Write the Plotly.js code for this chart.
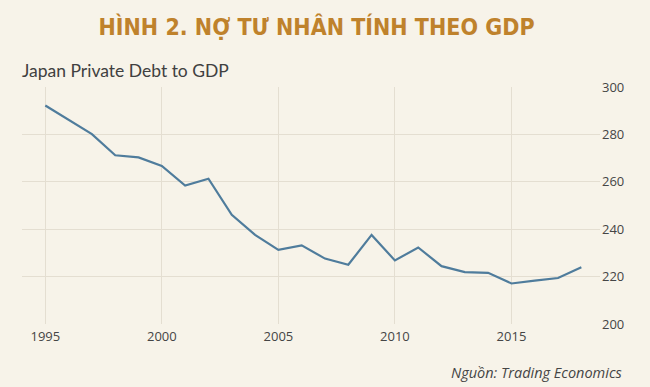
<!DOCTYPE html>
<html>
<head>
<meta charset="utf-8">
<script src="https://cdn.plot.ly/plotly-3.0.1.min.js"></script>
<style>
html,body{margin:0;padding:0;background:#f7f3e9;}
#chart{width:650px;height:387px;}
</style>
</head>
<body>
<div id="chart"></div>
<script>
var years = [1995,1996,1997,1998,1999,2000,2001,2002,2003,2004,2005,2006,2007,2008,2009,2010,2011,2012,2013,2014,2015,2016,2017,2018];
var debtToGdp = [292.2,286.2,280.1,271.2,270.3,266.7,258.4,261.3,246.1,237.6,231.3,233.2,227.6,225.0,237.6,226.8,232.3,224.4,221.9,221.6,217.1,218.3,219.4,223.9];
var xTicks = [1995,2000,2005,2010,2015];
var yTicks = [200,220,240,260,280,300];

var trace = {
  x: years, y: debtToGdp, type: 'scatter', mode: 'lines',
  line: {color: '#4f7c9c', width: 2.2},
  hoverinfo: 'x+y'
};

var layout = {
  width: 650, height: 387,
  paper_bgcolor: '#f7f3e9', plot_bgcolor: '#f7f3e9',
  margin: {l: 22, r: 50, t: 87, b: 63},
  showlegend: false,
  title: {
    text: '<b>HÌNH 2. NỢ TƯ NHÂN TÍNH THEO GDP</b>',
    font: {family: '"Liberation Sans Narrow", "DejaVu Sans Condensed", sans-serif', size: 23, color: '#bf822c'},
    x: 0.487, xanchor: 'center', xref: 'container',
    y: 0.93, yanchor: 'middle', yref: 'container'
  },
  xaxis: {
    range: [1994, 2018.8],
    tickvals: xTicks, ticktext: xTicks.map(String),
    showgrid: true, gridcolor: '#e4ded1', gridwidth: 1,
    zeroline: false, showline: false, ticks: '',
    ticklabelstandoff: 3,
    tickfont: {family: '"Open Sans", sans-serif', size: 13, color: '#454545'},
    fixedrange: true
  },
  yaxis: {
    range: [200, 300], side: 'right',
    tickvals: yTicks, ticktext: yTicks.map(String),
    showgrid: true, gridcolor: '#e4ded1', gridwidth: 1,
    zeroline: false, showline: false, ticks: '',
    ticklabelstandoff: 1,
    tickfont: {family: '"Open Sans", sans-serif', size: 13, color: '#454545'},
    fixedrange: true
  },
  annotations: [
    {
      text: 'Japan Private Debt to GDP',
      xref: 'paper', yref: 'paper', x: 0, y: 1, xanchor: 'left', yanchor: 'middle',
      yshift: 17, xshift: -2,
      showarrow: false,
      font: {family: 'Lato, "Open Sans", sans-serif', size: 17.5, color: '#404040'}
    },
    {
      text: '<i>Nguồn: Trading Economics</i>',
      xref: 'paper', yref: 'paper', x: 1, y: 0, xanchor: 'right', yanchor: 'middle',
      xshift: 24, yshift: -48,
      showarrow: false,
      font: {family: '"Open Sans", sans-serif', size: 14.5, color: '#454545'}
    }
  ]
};

Plotly.newPlot('chart', [trace], layout, {displayModeBar: false, staticPlot: true});
</script>
</body>
</html>
